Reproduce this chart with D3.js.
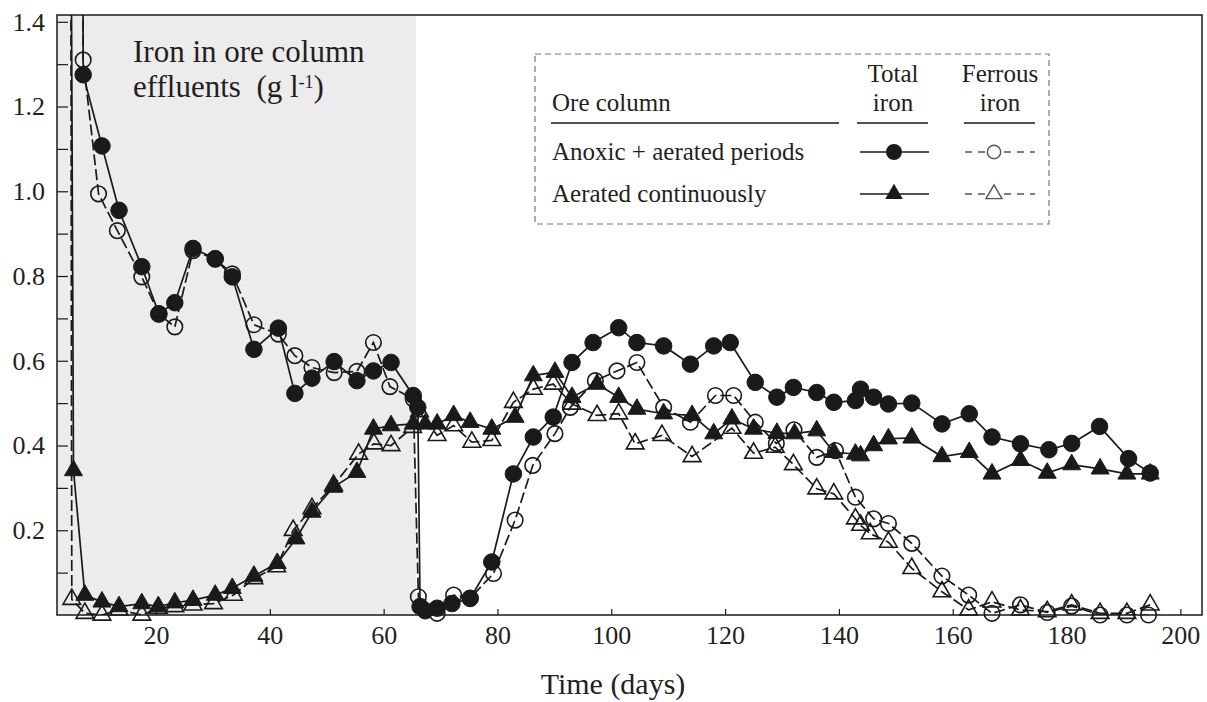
<!DOCTYPE html>
<html><head><meta charset="utf-8">
<script src="https://cdn.jsdelivr.net/npm/d3@7"></script>
<style>
body{margin:0;background:#fff}
svg{display:block}
text{font-family:"Liberation Serif","DejaVu Serif","Times New Roman",serif;fill:#231f20}
</style>
</head><body>
<svg id="c" width="1207" height="702"></svg>
<script>
// ---------- data ----------
const xTickValues = [20, 40, 60, 80, 100, 120, 140, 160, 180, 200];
const yTickMajor = [0.2, 0.4, 0.6, 0.8, 1.0, 1.2, 1.4];
const yTickMinor = [0.1, 0.3, 0.5, 0.7, 0.9, 1.1, 1.3];
const shadedPeriod = [2.6, 65.7];   // anoxic/aerated shading (days)

// Anoxic + aerated periods, total iron (first point is off the top of the chart)
const anoxicTotalDays = [7.1, 7.2, 10.5, 13.5, 17.5, 20.5, 23.3, 26.5, 30.4, 33.4, 37.2, 41.5, 44.4, 47.4, 51.3, 55.3, 58.2, 61.3, 65.2, 66.0, 66.4, 67.3, 69.4, 72.0, 75.2, 79.0, 82.8, 86.3, 89.8, 93.1, 96.8, 101.3, 104.5, 109.2, 113.9, 118.0, 120.9, 125.3, 129.1, 132.0, 136.1, 139.1, 142.9, 143.8, 146.1, 148.7, 152.8, 158.1, 162.9, 166.9, 171.9, 176.9, 180.9, 185.8, 190.9, 194.7];
const anoxicTotalValues = [1.9, 1.275, 1.107, 0.955, 0.822, 0.711, 0.737, 0.865, 0.841, 0.798, 0.627, 0.677, 0.523, 0.559, 0.598, 0.553, 0.576, 0.596, 0.518, 0.49, 0.02, 0.01, 0.016, 0.027, 0.039, 0.125, 0.333, 0.42, 0.467, 0.596, 0.643, 0.678, 0.643, 0.635, 0.592, 0.635, 0.643, 0.549, 0.514, 0.537, 0.525, 0.502, 0.506, 0.533, 0.514, 0.498, 0.5, 0.451, 0.475, 0.42, 0.404, 0.39, 0.405, 0.445, 0.369, 0.335];

// Anoxic + aerated periods, ferrous iron
const anoxicFerrousDays = [7.1, 7.2, 9.9, 13.2, 17.5, 20.5, 23.3, 26.5, 30.4, 33.4, 37.2, 41.5, 44.4, 47.4, 51.3, 55.3, 58.2, 61.1, 65.2, 66.1, 69.4, 72.3, 75.2, 79.3, 83.1, 86.2, 90.1, 92.8, 97.2, 101.0, 104.5, 109.2, 113.9, 118.3, 121.5, 125.3, 129.0, 132.1, 136.1, 139.4, 142.9, 146.1, 148.7, 152.8, 158.1, 162.8, 166.9, 171.9, 176.6, 180.9, 185.9, 190.6, 194.4];
const anoxicFerrousValues = [1.9, 1.31, 0.994, 0.907, 0.798, 0.71, 0.68, 0.86, 0.84, 0.805, 0.685, 0.663, 0.612, 0.584, 0.572, 0.575, 0.643, 0.539, 0.51, 0.043, 0.004, 0.047, 0.04, 0.098, 0.224, 0.353, 0.428, 0.49, 0.553, 0.576, 0.596, 0.49, 0.455, 0.518, 0.518, 0.455, 0.405, 0.437, 0.372, 0.388, 0.278, 0.227, 0.216, 0.169, 0.092, 0.047, 0.004, 0.024, 0.006, 0.021, 0.0, 0.0, 0.0];

// Aerated continuously, total iron
const aeratedTotalDays = [5.0, 5.5, 7.5, 10.5, 13.5, 17.5, 20.4, 23.3, 26.5, 30.4, 33.4, 37.2, 41.3, 44.6, 47.4, 51.2, 55.3, 58.2, 61.3, 65.2, 67.3, 69.4, 72.3, 75.2, 79.0, 83.1, 86.3, 90.1, 93.1, 97.5, 101.3, 104.5, 109.2, 114.2, 118.0, 121.2, 125.0, 129.1, 132.2, 136.1, 139.1, 142.9, 143.8, 146.1, 148.7, 152.8, 158.1, 162.9, 166.9, 171.9, 176.6, 180.9, 185.9, 190.6, 194.7];
const aeratedTotalValues = [1.9, 0.341, 0.047, 0.031, 0.02, 0.027, 0.02, 0.029, 0.035, 0.047, 0.063, 0.092, 0.122, 0.18, 0.243, 0.302, 0.337, 0.439, 0.447, 0.451, 0.451, 0.451, 0.471, 0.455, 0.439, 0.467, 0.565, 0.573, 0.514, 0.545, 0.514, 0.486, 0.475, 0.471, 0.428, 0.463, 0.439, 0.429, 0.428, 0.435, 0.384, 0.38, 0.376, 0.4, 0.416, 0.418, 0.374, 0.384, 0.333, 0.365, 0.335, 0.355, 0.345, 0.333, 0.333];

// Aerated continuously, ferrous iron
const aeratedFerrousDays = [5.0, 5.2, 7.5, 10.5, 13.5, 17.5, 20.4, 23.3, 26.5, 30.1, 33.6, 37.2, 41.2, 44.1, 47.4, 51.2, 55.6, 58.3, 61.3, 65.1, 66.3, 69.4, 72.3, 75.5, 79.0, 82.8, 86.3, 89.8, 93.1, 97.5, 101.3, 104.2, 108.9, 114.2, 121.2, 125.0, 128.8, 132.0, 136.1, 139.1, 142.9, 143.8, 145.5, 148.7, 152.8, 158.1, 162.8, 166.9, 171.9, 176.6, 180.9, 185.9, 190.6, 194.7];
const aeratedFerrousValues = [1.9, 0.037, 0.004, 0.0, 0.012, 0.0, 0.016, 0.02, 0.024, 0.027, 0.047, 0.086, 0.114, 0.2, 0.251, 0.306, 0.38, 0.404, 0.4, 0.443, 0.48, 0.424, 0.447, 0.408, 0.412, 0.502, 0.533, 0.545, 0.498, 0.471, 0.475, 0.404, 0.424, 0.374, 0.441, 0.382, 0.396, 0.355, 0.298, 0.286, 0.227, 0.212, 0.192, 0.172, 0.11, 0.055, 0.012, 0.031, 0.012, 0.008, 0.024, 0.004, 0.004, 0.024];

const legendRows = ["Anoxic + aerated periods", "Aerated continuously"];

// ---------- layout ----------
const svg = d3.select("#c");
const L = 57, T = 15, R = 1202, B = 615;
const x = d3.scaleLinear().domain([2.6, 203.8]).range([L, R]);
const y = d3.scaleLinear().domain([0, 1.416]).range([B, T]);
const ink = "#1a1a1a";

svg.append("defs").append("clipPath").attr("id", "plotclip")
  .append("rect").attr("x", L).attr("y", T).attr("width", R - L).attr("height", B - T);

// shaded period
svg.append("rect")
  .attr("x", x(shadedPeriod[0])).attr("y", T)
  .attr("width", x(shadedPeriod[1]) - x(shadedPeriod[0])).attr("height", B - T)
  .attr("fill", "#ececec");

// axes
const xAxis = d3.axisBottom(x).tickValues(xTickValues).tickSizeInner(-6).tickSizeOuter(0).tickPadding(11).tickFormat(d3.format("d"));
const gx = svg.append("g").attr("transform", `translate(0,${B})`).call(xAxis);
gx.attr("font-family", null);
gx.select(".domain").remove();
gx.selectAll(".tick line").attr("stroke", ink).attr("stroke-width", 1.2);
gx.selectAll(".tick text").attr("font-size", 26).attr("fill", "#231f20");

const yAxis = d3.axisLeft(y).tickValues(yTickMajor).tickSizeInner(-11).tickSizeOuter(0).tickPadding(12).tickFormat(d3.format(".1f"));
const gy = svg.append("g").attr("transform", `translate(${L},0)`).call(yAxis);
gy.attr("font-family", null);
gy.select(".domain").remove();
gy.selectAll(".tick line").attr("stroke", ink).attr("stroke-width", 1.2);
gy.selectAll(".tick text").attr("font-size", 26).attr("fill", "#231f20");

const yAxisMinor = d3.axisLeft(y).tickValues(yTickMinor).tickSizeInner(-11).tickSizeOuter(0).tickFormat("");
const gym = svg.append("g").attr("transform", `translate(${L},0)`).call(yAxisMinor);
gym.select(".domain").remove();
gym.selectAll(".tick line").attr("stroke", ink).attr("stroke-width", 1.2);

// axis title
svg.append("text").attr("x", 613).attr("y", 694).attr("text-anchor", "middle")
  .attr("font-size", 30).text("Time (days)");

// annotation
svg.append("text").attr("x", 133).attr("y", 62).attr("font-size", 31).text("Iron in ore column");
const ann = svg.append("text").attr("x", 133).attr("y", 97).attr("font-size", 31);
ann.append("tspan").text("effluents\u00a0\u00a0(g l");
ann.append("tspan").attr("font-size", 18).attr("dy", -9).text("-1");
ann.append("tspan").attr("dy", 9).text(")");

// series
const series = [
  {days: anoxicTotalDays, vals: anoxicTotalValues, dash: null, shape: d3.symbolCircle, fill: ink, size: 215},
  {days: anoxicFerrousDays, vals: anoxicFerrousValues, dash: "11,4", shape: d3.symbolCircle, fill: "none", size: 190},
  {days: aeratedFerrousDays, vals: aeratedFerrousValues, dash: "11,4", shape: d3.symbolTriangle, fill: "none", size: 135},
  {days: aeratedTotalDays, vals: aeratedTotalValues, dash: null, shape: d3.symbolTriangle, fill: ink, size: 140},
];
const line = d3.line().x(d => x(d[0])).y(d => y(d[1]));
const lineLayer = svg.append("g").attr("clip-path", "url(#plotclip)");
const markLayer = svg.append("g");
series.forEach(s => {
  const pts = s.days.map((d, i) => [d, s.vals[i]]);
  lineLayer.append("path").datum(pts).attr("d", line)
    .attr("fill", "none").attr("stroke", ink).attr("stroke-width", 1.7)
    .attr("stroke-dasharray", s.dash);
  markLayer.selectAll(null).data(pts.filter(p => p[1] <= y.domain()[1])).join("path")
    .attr("transform", p => `translate(${x(p[0])},${y(p[1])})`)
    .attr("d", d3.symbol().type(s.shape).size(s.size))
    .attr("fill", s.fill).attr("stroke", ink).attr("stroke-width", s.fill === "none" ? 1.6 : 1);
});

// plot border
svg.append("rect").attr("x", L).attr("y", T).attr("width", R - L).attr("height", B - T)
  .attr("fill", "none").attr("stroke", ink).attr("stroke-width", 1.5);

// legend
const lg = svg.append("g");
lg.append("rect").attr("x", 535).attr("y", 54).attr("width", 514).attr("height", 170)
  .attr("fill", "#fff").attr("stroke", "#777").attr("stroke-width", 1.2).attr("stroke-dasharray", "6,4");
lg.append("text").attr("x", 552).attr("y", 111).attr("font-size", 25).text("Ore column");
lg.append("text").attr("x", 893).attr("y", 82).attr("font-size", 25).attr("text-anchor", "middle").text("Total");
lg.append("text").attr("x", 893).attr("y", 111).attr("font-size", 25).attr("text-anchor", "middle").text("iron");
lg.append("text").attr("x", 1000).attr("y", 82).attr("font-size", 25).attr("text-anchor", "middle").text("Ferrous");
lg.append("text").attr("x", 1000).attr("y", 111).attr("font-size", 25).attr("text-anchor", "middle").text("iron");
[[551, 839], [857, 928], [964, 1035]].forEach(([a, b]) =>
  lg.append("line").attr("x1", a).attr("x2", b).attr("y1", 123).attr("y2", 123).attr("stroke", ink).attr("stroke-width", 1.5));
const rowY = [152, 194];
const rowShapes = [d3.symbolCircle, d3.symbolTriangle];
legendRows.forEach((label, i) => {
  lg.append("text").attr("x", 552).attr("y", rowY[i] + 8).attr("font-size", 25).text(label);
  lg.append("line").attr("x1", 860).attr("x2", 929).attr("y1", rowY[i]).attr("y2", rowY[i]).attr("stroke", ink).attr("stroke-width", 1.5);
  lg.append("path").attr("transform", `translate(894,${rowY[i]})`)
    .attr("d", d3.symbol().type(rowShapes[i]).size(i === 0 ? 200 : 135)).attr("fill", ink);
  lg.append("line").attr("x1", 965).attr("x2", 1035).attr("y1", rowY[i]).attr("y2", rowY[i])
    .attr("stroke", "#555").attr("stroke-width", 1.4).attr("stroke-dasharray", "7,6");
  lg.append("path").attr("transform", `translate(994,${rowY[i]})`)
    .attr("d", d3.symbol().type(rowShapes[i]).size(i === 0 ? 140 : 110)).attr("fill", "#fff").attr("stroke", "#555").attr("stroke-width", 1.4);
});
</script>
</body></html>
